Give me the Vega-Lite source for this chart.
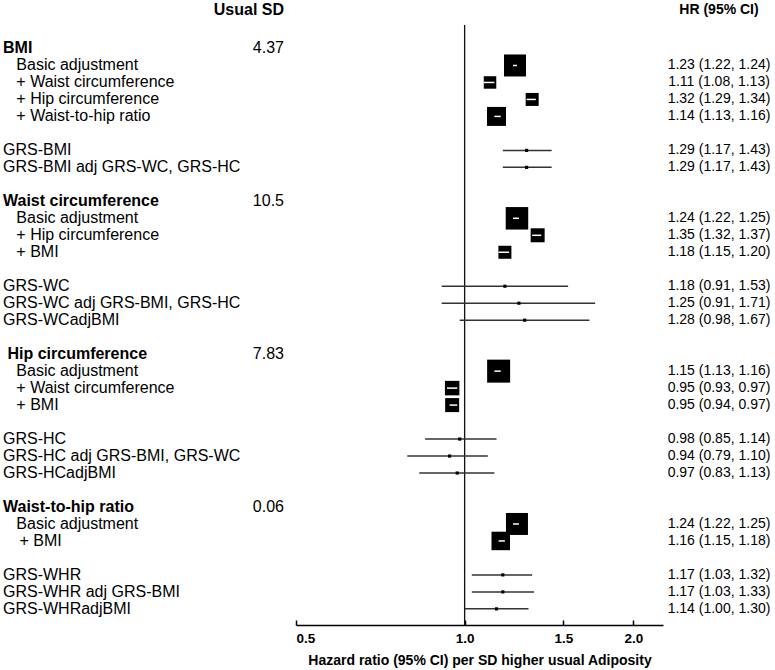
{
  "$schema": "https://vega.github.io/schema/vega-lite/v6.json",
  "padding": 0,
  "bounds": "flush",
  "spacing": 0,
  "background": "white",
  "config": {
    "view": {"stroke": null},
    "font": "Liberation Sans",
    "text": {"font": "Liberation Sans", "color": "black"}
  },
  "datasets": {
    "rows": [
      {"row": 0, "label": "BMI", "bold": true, "sd": "4.37", "kind": "header"},
      {"row": 1, "label": "\u200b\u00a0\u00a0\u00a0Basic adjustment", "bold": false, "kind": "box", "hr": 1.23, "lo": 1.22, "hi": 1.24, "weight": 4.84, "ci": "1.23 (1.22, 1.24)"},
      {"row": 2, "label": "\u200b\u00a0\u00a0\u00a0+ Waist circumference", "bold": false, "kind": "box", "hr": 1.11, "lo": 1.08, "hi": 1.13, "weight": 1.56, "ci": "1.11 (1.08, 1.13)"},
      {"row": 3, "label": "\u200b\u00a0\u00a0\u00a0+ Hip circumference", "bold": false, "kind": "box", "hr": 1.32, "lo": 1.29, "hi": 1.34, "weight": 1.69, "ci": "1.32 (1.29, 1.34)"},
      {"row": 4, "label": "\u200b\u00a0\u00a0\u00a0+ Waist-to-hip ratio", "bold": false, "kind": "box", "hr": 1.14, "lo": 1.13, "hi": 1.16, "weight": 3.61, "ci": "1.14 (1.13, 1.16)"},
      {"row": 6, "label": "GRS-BMI", "bold": false, "kind": "grs", "hr": 1.29, "lo": 1.17, "hi": 1.43, "ci": "1.29 (1.17, 1.43)"},
      {"row": 7, "label": "GRS-BMI adj GRS-WC, GRS-HC", "bold": false, "kind": "grs", "hr": 1.29, "lo": 1.17, "hi": 1.43, "ci": "1.29 (1.17, 1.43)"},
      {"row": 9, "label": "Waist circumference", "bold": true, "sd": "10.5", "kind": "header"},
      {"row": 10, "label": "\u200b\u00a0\u00a0\u00a0Basic adjustment", "bold": false, "kind": "box", "hr": 1.24, "lo": 1.22, "hi": 1.25, "weight": 5.06, "ci": "1.24 (1.22, 1.25)"},
      {"row": 11, "label": "\u200b\u00a0\u00a0\u00a0+ Hip circumference", "bold": false, "kind": "box", "hr": 1.35, "lo": 1.32, "hi": 1.37, "weight": 1.96, "ci": "1.35 (1.32, 1.37)"},
      {"row": 12, "label": "\u200b\u00a0\u00a0\u00a0+ BMI", "bold": false, "kind": "box", "hr": 1.18, "lo": 1.15, "hi": 1.20, "weight": 1.69, "ci": "1.18 (1.15, 1.20)"},
      {"row": 14, "label": "GRS-WC", "bold": false, "kind": "grs", "hr": 1.18, "lo": 0.91, "hi": 1.53, "ci": "1.18 (0.91, 1.53)"},
      {"row": 15, "label": "GRS-WC adj GRS-BMI, GRS-HC", "bold": false, "kind": "grs", "hr": 1.25, "lo": 0.91, "hi": 1.71, "ci": "1.25 (0.91, 1.71)"},
      {"row": 16, "label": "GRS-WCadjBMI", "bold": false, "kind": "grs", "hr": 1.28, "lo": 0.98, "hi": 1.67, "ci": "1.28 (0.98, 1.67)"},
      {"row": 18, "label": "\u200b\u00a0Hip circumference", "bold": true, "sd": "7.83", "kind": "header"},
      {"row": 19, "label": "\u200b\u00a0\u00a0\u00a0Basic adjustment", "bold": false, "kind": "box", "hr": 1.15, "lo": 1.13, "hi": 1.16, "weight": 5.29, "ci": "1.15 (1.13, 1.16)"},
      {"row": 20, "label": "\u200b\u00a0\u00a0\u00a0+ Waist circumference", "bold": false, "kind": "box", "hr": 0.95, "lo": 0.93, "hi": 0.97, "weight": 2.1, "ci": "0.95 (0.93, 0.97)"},
      {"row": 21, "label": "\u200b\u00a0\u00a0\u00a0+ BMI", "bold": false, "kind": "box", "hr": 0.95, "lo": 0.94, "hi": 0.97, "weight": 1.96, "ci": "0.95 (0.94, 0.97)"},
      {"row": 23, "label": "GRS-HC", "bold": false, "kind": "grs", "hr": 0.98, "lo": 0.85, "hi": 1.14, "ci": "0.98 (0.85, 1.14)"},
      {"row": 24, "label": "GRS-HC adj GRS-BMI, GRS-WC", "bold": false, "kind": "grs", "hr": 0.94, "lo": 0.79, "hi": 1.10, "ci": "0.94 (0.79, 1.10)"},
      {"row": 25, "label": "GRS-HCadjBMI", "bold": false, "kind": "grs", "hr": 0.97, "lo": 0.83, "hi": 1.13, "ci": "0.97 (0.83, 1.13)"},
      {"row": 27, "label": "Waist-to-hip ratio", "bold": true, "sd": "0.06", "kind": "header"},
      {"row": 28, "label": "\u200b\u00a0\u00a0\u00a0Basic adjustment", "bold": false, "kind": "box", "hr": 1.24, "lo": 1.22, "hi": 1.25, "weight": 4.84, "ci": "1.24 (1.22, 1.25)"},
      {"row": 29, "label": "\u200b\u00a0\u00a0\u00a0\u2009+ BMI", "bold": false, "kind": "box", "hr": 1.16, "lo": 1.15, "hi": 1.18, "weight": 3.42, "ci": "1.16 (1.15, 1.18)"},
      {"row": 31, "label": "GRS-WHR", "bold": false, "kind": "grs", "hr": 1.17, "lo": 1.03, "hi": 1.32, "ci": "1.17 (1.03, 1.32)"},
      {"row": 32, "label": "GRS-WHR adj GRS-BMI", "bold": false, "kind": "grs", "hr": 1.17, "lo": 1.03, "hi": 1.33, "ci": "1.17 (1.03, 1.33)"},
      {"row": 33, "label": "GRS-WHRadjBMI", "bold": false, "kind": "grs", "hr": 1.14, "lo": 1.00, "hi": 1.30, "ci": "1.14 (1.00, 1.30)"}
    ],
    "headers": [
      {"row": -2.27, "sdhead": "Usual SD", "hrhead": "HR (95% CI)"}
    ],
    "refline": [
      {"x": 1, "y": -1.38, "y2": 33.95}
    ]
  },
  "hconcat": [
    {
      "width": 296,
      "height": 625,
      "layer": [
        {
          "data": {"name": "rows"},
          "transform": [{"filter": "datum.bold"}],
          "mark": {"type": "text", "align": "left", "baseline": "middle", "fontSize": 16, "fontWeight": "bold", "dx": 3},
          "encoding": {
            "x": {"datum": 0, "type": "quantitative", "scale": {"domain": [0, 1], "nice": false, "zero": false}, "axis": null},
            "y": {"field": "row", "type": "quantitative", "scale": {"domain": [-2.856, 33.95], "reverse": true, "nice": false, "zero": false}, "axis": null},
            "text": {"field": "label"}
          }
        },
        {
          "data": {"name": "rows"},
          "transform": [{"filter": "!datum.bold"}],
          "mark": {"type": "text", "align": "left", "baseline": "middle", "fontSize": 16, "dx": 3},
          "encoding": {
            "x": {"datum": 0, "type": "quantitative"},
            "y": {"field": "row", "type": "quantitative"},
            "text": {"field": "label"}
          }
        },
        {
          "data": {"name": "rows"},
          "transform": [{"filter": "datum.sd"}],
          "mark": {"type": "text", "align": "right", "baseline": "middle", "fontSize": 16, "dx": -12},
          "encoding": {
            "x": {"datum": 1, "type": "quantitative"},
            "y": {"field": "row", "type": "quantitative"},
            "text": {"field": "sd"}
          }
        },
        {
          "data": {"name": "headers"},
          "mark": {"type": "text", "align": "right", "baseline": "middle", "fontSize": 16, "fontWeight": "bold", "dx": -12},
          "encoding": {
            "x": {"datum": 1, "type": "quantitative"},
            "y": {"field": "row", "type": "quantitative"},
            "text": {"field": "sdhead"}
          }
        }
      ]
    },
    {
      "width": 367,
      "height": 625,
      "layer": [
        {
          "data": {"name": "refline"},
          "mark": {"type": "rule", "color": "#111", "strokeWidth": 1.3},
          "encoding": {
            "x": {
              "field": "x", "type": "quantitative",
              "scale": {"type": "log", "domain": [0.5, 2.26], "nice": false, "zero": false},
              "axis": {
                "values": [0.5, 1, 1.5, 2],
                "format": ".1f",
                "grid": false,
                "title": "Hazard ratio (95% CI) per SD higher usual Adiposity",
                "titleFont": "Liberation Sans",
                "titleFontSize": 14,
                "titleFontWeight": "bold",
                "titleColor": "black",
                "titlePadding": 9,
                "labelFont": "Liberation Sans",
                "labelFontSize": 13.5,
                "labelFontWeight": "bold",
                "labelColor": "black",
                "labelPadding": 11,
                "domainColor": "black",
                "domainWidth": 1.5,
                "tickColor": "black",
                "tickWidth": 1.5,
                "tickSize": -5
              }
            },
            "y": {"field": "y", "type": "quantitative", "scale": {"domain": [-2.856, 33.95], "reverse": true, "nice": false, "zero": false}, "axis": null},
            "y2": {"field": "y2"}
          }
        },
        {
          "data": {"name": "rows"},
          "transform": [{"filter": "datum.kind == 'box'"}],
          "mark": {"type": "square", "filled": true, "color": "black", "opacity": 1},
          "encoding": {
            "x": {"field": "hr", "type": "quantitative"},
            "y": {"field": "row", "type": "quantitative"},
            "size": {"field": "weight", "type": "quantitative", "scale": {"domain": [0, 10], "range": [0, 1000]}, "legend": null}
          }
        },
        {
          "data": {"name": "rows"},
          "transform": [{"filter": "datum.kind == 'box' || datum.kind == 'grs'"}],
          "mark": {"type": "rule", "strokeWidth": 1.5},
          "encoding": {
            "x": {"field": "lo", "type": "quantitative"},
            "x2": {"field": "hi"},
            "y": {"field": "row", "type": "quantitative"},
            "color": {"field": "kind", "type": "nominal", "scale": {"domain": ["box", "grs"], "range": ["white", "#333333"]}, "legend": null}
          }
        },
        {
          "data": {"name": "rows"},
          "transform": [{"filter": "datum.kind == 'grs'"}],
          "mark": {"type": "square", "filled": true, "color": "black", "size": 10, "opacity": 1},
          "encoding": {
            "x": {"field": "hr", "type": "quantitative"},
            "y": {"field": "row", "type": "quantitative"}
          }
        }
      ]
    },
    {
      "width": 112,
      "height": 625,
      "layer": [
        {
          "data": {"name": "rows"},
          "transform": [{"filter": "datum.ci"}],
          "mark": {"type": "text", "align": "center", "baseline": "middle", "fontSize": 14},
          "encoding": {
            "x": {"datum": 0.5, "type": "quantitative", "scale": {"domain": [0, 1], "nice": false, "zero": false}, "axis": null},
            "y": {"field": "row", "type": "quantitative", "scale": {"domain": [-2.856, 33.95], "reverse": true, "nice": false, "zero": false}, "axis": null},
            "text": {"field": "ci"}
          }
        },
        {
          "data": {"name": "headers"},
          "mark": {"type": "text", "align": "center", "baseline": "middle", "fontSize": 14, "fontWeight": "bold"},
          "encoding": {
            "x": {"datum": 0.5, "type": "quantitative"},
            "y": {"field": "row", "type": "quantitative"},
            "text": {"field": "hrhead"}
          }
        }
      ]
    }
  ]
}
